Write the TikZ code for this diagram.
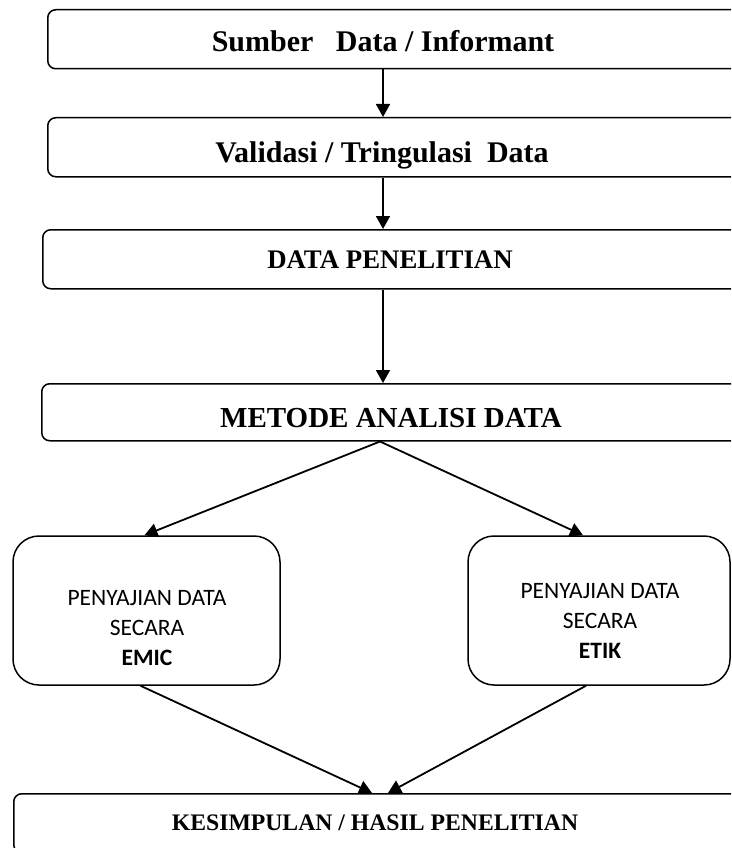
\documentclass[tikz,border=0pt]{standalone}
\usepackage{fontspec}
\setmainfont{Liberation Serif}
\newfontfamily\calibri{Carlito}
\usetikzlibrary{arrows.meta,positioning}

\begin{document}
\begin{tikzpicture}[x=1pt, y=-1pt,
  bar/.style={draw, line width=1.5pt, rounded corners=8pt, anchor=north west,
              minimum height=59pt, minimum width=760pt, inner sep=0pt},
  card/.style={draw, line width=1.5pt, rounded corners=26pt,
               minimum width=267pt, minimum height=149pt, inner sep=0pt},
  head/.style={anchor=base, font=\bfseries\fontsize{30}{36}\selectfont},
  smallhead/.style={anchor=base, font=\bfseries\fontsize{26.8}{30}\selectfont},
  body/.style={anchor=base, align=center,
               font=\calibri\fontsize{23.5}{30}\selectfont},
  arr/.style={-{Triangle[length=13pt,width=14pt]}, line width=1.8pt}
]
\useasboundingbox (0,0) rectangle (731,848);
\clip (0,0) rectangle (731,848);

\coordinate (col) at (383,0);
\coordinate (inL) at (372,0);
\coordinate (inR) at (388,0);

% stacked steps
\node[bar] (src) at (47,9) {};
\node[head] (srcT) at (383,52) {Sumber\ \ \ Data / Informant};

\node[bar] (val) at (47,117) {};
\node[head] (valT) at (382,162) {Validasi / Tringulasi\ \ Data};

\node[bar] (dat) at (42,229) {};
\node[smallhead] (datT) at (390,268) {DATA PENELITIAN};

\node[bar, minimum height=57pt] (met) at (41,383) {};
\node[head, font=\bfseries\fontsize{29}{34}\selectfont] (metT) at (391,427) {METODE ANALISI DATA};

% two ways of presenting
\node[card] (emic) at (146.5,610.5) {};
\node[body] (emicT) at (147,665) {PENYAJIAN DATA\\SECARA\\\textbf{EMIC}};

\node[card, minimum width=262pt] (etik) at (599,610.5) {};
\node[body] (etikT) at (600,658) {PENYAJIAN DATA\\SECARA\\\textbf{ETIK}};

\node[bar, minimum width=740pt] (kes) at (13,793) {};
\node[smallhead, font=\bfseries\fontsize{23.7}{30}\selectfont] (kesT) at (375,830)
  {KESIMPULAN / HASIL PENELITIAN};

\draw[arr] (src.south -| col) -- (val.north -| col);
\draw[arr] (val.south -| col) -- (dat.north -| col);
\draw[arr] (dat.south -| col) -- (met.north -| col);

\draw[arr] ([xshift=-3pt]met.south -| col) -- ([xshift=-2pt]emic.north);
\draw[arr] ([xshift=-3pt]met.south -| col) -- ([xshift=-16pt]etik.north);

\draw[arr] ([xshift=-6pt]emic.south) -- (kes.north -| inL);
\draw[arr] ([xshift=-13pt]etik.south) -- (kes.north -| inR);
\end{tikzpicture}
\end{document}
